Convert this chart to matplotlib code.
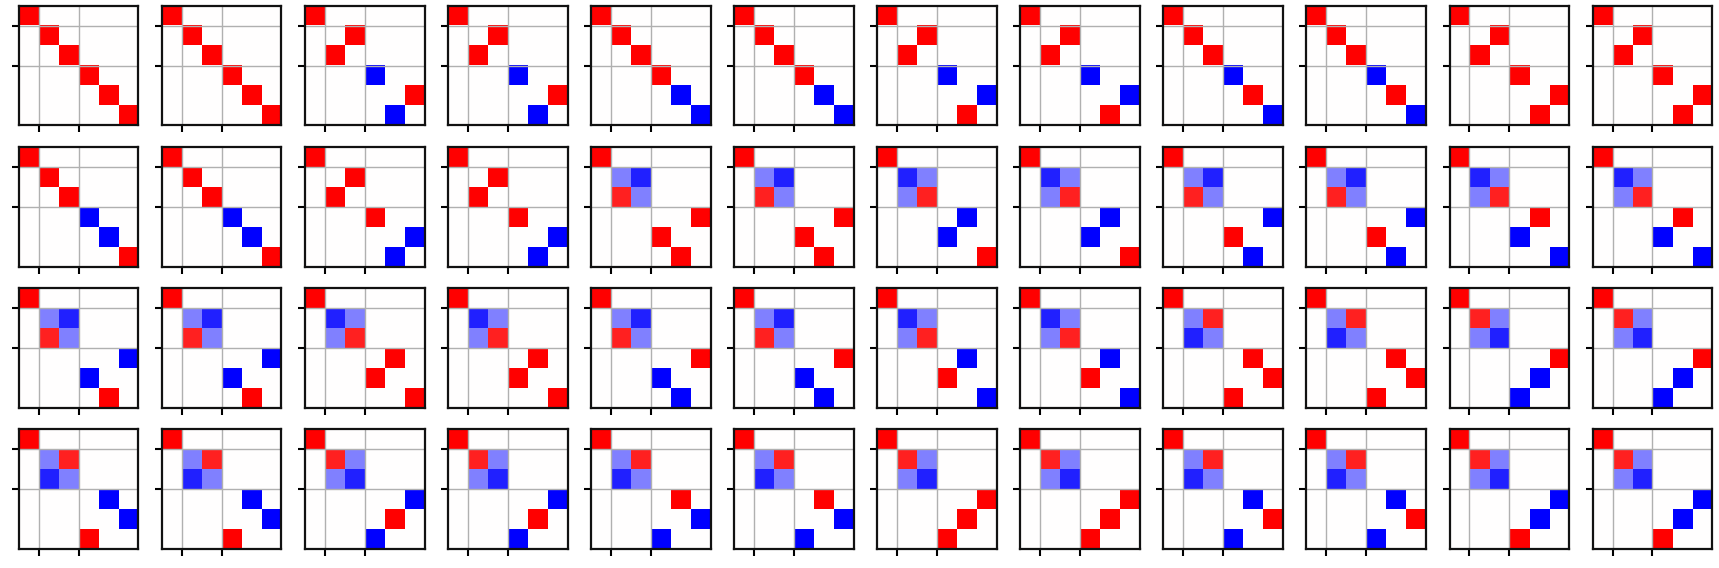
import numpy as np
import matplotlib
matplotlib.use("Agg")
import matplotlib.pyplot as plt

# 2x2 block patterns (values: +-1, +-0.5, +-0.87)
blocks2 = {
    'I': [[1, 0], [0, 1]],
    'P': [[0, 1], [1, 0]],
    'A': [[-0.5, -0.87], [0.87, -0.5]],
    'B': [[-0.87, -0.5], [-0.5, 0.87]],
    'C': [[-0.5, 0.87], [-0.87, -0.5]],
    'D': [[0.87, -0.5], [-0.5, -0.87]],
}

# one entry per distinct matrix; each is shown twice in a row
kinds = ['I', 'P', 'I', 'P', 'I', 'P',
         'I', 'P', 'A', 'B', 'A', 'B',
         'A', 'B', 'A', 'B', 'C', 'D',
         'C', 'D', 'C', 'D', 'C', 'D']

# column of the nonzero entry in each row of the 3x3 block
perms = [[0, 1, 2], [0, 2, 1], [0, 1, 2], [0, 2, 1], [0, 1, 2], [0, 2, 1],
         [0, 1, 2], [0, 2, 1], [2, 0, 1], [1, 0, 2], [2, 0, 1], [1, 0, 2],
         [2, 0, 1], [1, 0, 2], [2, 0, 1], [1, 0, 2], [1, 2, 0], [2, 1, 0],
         [1, 2, 0], [2, 1, 0], [1, 2, 0], [2, 1, 0], [1, 2, 0], [2, 1, 0]]

signs = [[1, 1, 1], [-1, 1, -1], [1, -1, -1], [-1, -1, 1], [-1, 1, -1], [1, 1, 1],
         [-1, -1, 1], [1, -1, -1], [1, 1, 1], [-1, -1, 1], [-1, 1, -1], [1, -1, -1],
         [-1, -1, 1], [1, 1, 1], [1, -1, -1], [-1, 1, -1], [1, 1, 1], [1, -1, -1],
         [-1, -1, 1], [-1, 1, -1], [1, -1, -1], [1, 1, 1], [-1, 1, -1], [-1, -1, 1]]

repeat = 2


def build(kind, perm, sign):
    m = np.zeros((6, 6))
    m[0, 0] = 1
    m[1:3, 1:3] = blocks2[kind]
    for i in range(3):
        m[3 + i, 3 + perm[i]] = sign[i]
    return m


mats = []
for k, p, s in zip(kinds, perms, signs):
    for _ in range(repeat):
        mats.append(build(k, p, s))

fig, axes = plt.subplots(4, 12, figsize=(17.19, 5.68), dpi=100)
fig.subplots_adjust(left=0.011, right=0.996, top=0.9895, bottom=0.0335,
                    wspace=0.197, hspace=0.181)

for ax, m in zip(axes.flat, mats):
    ax.imshow(m, cmap='bwr', vmin=-1, vmax=1, interpolation='nearest')
    ax.set_xticks([0.5, 2.5])
    ax.set_yticks([0.5, 2.5])
    ax.set_xticklabels([])
    ax.set_yticklabels([])
    ax.tick_params(length=5, width=1.5)
    ax.grid(True, color='#b0b0b0', lw=1)
    for sp in ax.spines.values():
        sp.set_linewidth(1.6)
        sp.set_color('#111111')

fig.savefig('out.png', dpi=100)
